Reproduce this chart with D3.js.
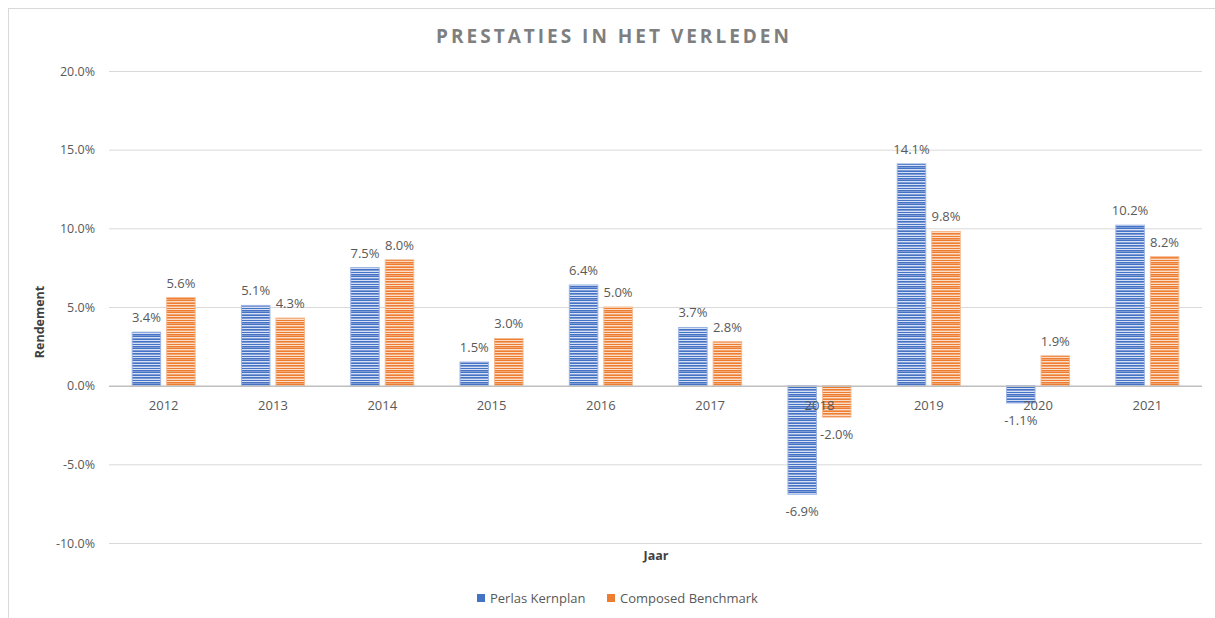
<!DOCTYPE html>
<html lang="en">
<head>
  <meta charset="UTF-8">
  <title>Prestaties in het verleden</title>
  <style>
    body { margin: 0; background: #fff; font-family: "Open Sans", Arial, sans-serif; }
  </style>
</head>
<body>

<svg width="1215" height="618"></svg>

<script src="https://d3js.org/d3.v7.min.js"></script>
<script>

// Chart data
let years = ["2012", "2013", "2014", "2015", "2016", "2017", "2018", "2019", "2020", "2021"];
let kernplan = [3.4, 5.1, 7.5, 1.5, 6.4, 3.7, -6.9, 14.1, -1.1, 10.2];
let benchmark = [5.6, 4.3, 8.0, 3.0, 5.0, 2.8, -2.0, 9.8, 1.9, 8.2];
let seriesNames = ["Perlas Kernplan", "Composed Benchmark"];
let yTicks = [-10, -5, 0, 5, 10, 15, 20];

let width = 1215, height = 618;
let svg = d3.select("svg");

// Striped fills (Excel style horizontal stripes)
let defs = svg.append("defs");
let stripes = [
  { id: "blueStripe", dark: "#4472c4", mid: "#7f9bd6", light: "#d6e0f4" },
  { id: "orangeStripe", dark: "#ed7d31", mid: "#f3a46f", light: "#fbdcc6" }
];
let rows = ["dark", "light", "mid", "dark", "light", "dark", "mid", "light", "dark", "light", "dark", "mid"];
stripes.forEach(s => {
  let p = defs.append("pattern")
      .attr("id", s.id)
      .attr("patternUnits", "userSpaceOnUse")
      .attr("width", 10)
      .attr("height", rows.length);
  rows.forEach((r, i) => {
    p.append("rect").attr("x", 0).attr("y", i).attr("width", 10).attr("height", 1).attr("fill", s[r]);
  });
});

// Outer frame (only top/left visible)
svg.append("rect")
    .attr("x", 8.5).attr("y", 8.5)
    .attr("width", 1250).attr("height", 650)
    .attr("fill", "none")
    .attr("stroke", "#d9d9d9");

let plot = { left: 109, right: 1202, top: 71, bottom: 543 };

let x = d3.scaleBand().domain(years).range([plot.left, plot.right]);
let y = d3.scaleLinear().domain([-10, 20]).range([plot.bottom, plot.top]);

// Gridlines
svg.append("g")
    .selectAll("line")
    .data(yTicks.filter(d => d != 0))
    .enter()
    .append("line")
    .attr("x1", plot.left).attr("x2", plot.right)
    .attr("y1", d => y(d) + 0.5).attr("y2", d => y(d) + 0.5)
    .attr("stroke", "#d9d9d9");

// Y tick labels
svg.append("g")
    .selectAll("text")
    .data(yTicks)
    .enter()
    .append("text")
    .attr("x", 95)
    .attr("y", d => y(d) + 4.5)
    .attr("text-anchor", "end")
    .attr("font-size", 12.5)
    .attr("fill", "#595959")
    .text(d => d.toFixed(1) + "%");

// Bars
let barW = 28.5, gap = 6;
let series = [
  { values: kernplan, fill: "url(#blueStripe)", edge: "#9bb3e3", off: -(gap / 2 + barW) },
  { values: benchmark, fill: "url(#orangeStripe)", edge: "#f6b98f", off: gap / 2 }
];

series.forEach(s => {
  let g = svg.append("g");
  g.selectAll("rect")
      .data(years)
      .enter()
      .append("rect")
      .attr("x", (d, i) => x(d) + x.bandwidth() / 2 + s.off)
      .attr("y", (d, i) => y(Math.max(0, s.values[i])))
      .attr("width", barW)
      .attr("height", (d, i) => Math.abs(y(s.values[i]) - y(0)))
      .attr("fill", s.fill)
      .attr("stroke", s.edge)
      .attr("stroke-width", 1);

  g.selectAll("text")
      .data(years)
      .enter()
      .append("text")
      .attr("x", (d, i) => x(d) + x.bandwidth() / 2 + s.off + barW / 2)
      .attr("y", (d, i) => s.values[i] >= 0 ? y(s.values[i]) - 10 : y(s.values[i]) + 22)
      .attr("text-anchor", "middle")
      .attr("font-size", 13)
      .attr("fill", "#595959")
      .text((d, i) => s.values[i].toFixed(1) + "%");
});

// Zero axis line
svg.append("line")
    .attr("x1", plot.left).attr("x2", plot.right)
    .attr("y1", y(0) + 0.5).attr("y2", y(0) + 0.5)
    .attr("stroke", "#bfbfbf")
    .attr("stroke-width", 1.5);

// Category labels
svg.append("g")
    .selectAll("text")
    .data(years)
    .enter()
    .append("text")
    .attr("x", d => x(d) + x.bandwidth() / 2)
    .attr("y", y(0) + 24)
    .attr("text-anchor", "middle")
    .attr("font-size", 13)
    .attr("fill", "#595959")
    .text(d => d);

// Title
svg.append("text")
    .attr("x", 614).attr("y", 43)
    .attr("text-anchor", "middle")
    .attr("font-size", 19)
    .attr("font-weight", "bold")
    .attr("letter-spacing", 3)
    .attr("fill", "#7f7f7f")
    .text("PRESTATIES IN HET VERLEDEN");

// Axis titles
svg.append("text")
    .attr("transform", "translate(44,322) rotate(-90)")
    .attr("text-anchor", "middle")
    .attr("font-size", 12.5)
    .attr("font-weight", "bold")
    .attr("fill", "#404040")
    .text("Rendement");

svg.append("text")
    .attr("x", 656).attr("y", 560)
    .attr("text-anchor", "middle")
    .attr("font-size", 12.5)
    .attr("font-weight", "bold")
    .attr("fill", "#404040")
    .text("Jaar");

// Legend
let legend = [
  { name: seriesNames[0], color: "#4472c4", x: 477 },
  { name: seriesNames[1], color: "#ed7d31", x: 607 }
];
let lg = svg.append("g").selectAll("g").data(legend).enter().append("g")
    .attr("transform", d => "translate(" + d.x + ",594)");
lg.append("rect").attr("width", 8).attr("height", 8).attr("fill", d => d.color);
lg.append("text")
    .attr("x", 13).attr("y", 9)
    .attr("font-size", 13)
    .attr("fill", "#595959")
    .text(d => d.name);

</script>

</body>
</html>
